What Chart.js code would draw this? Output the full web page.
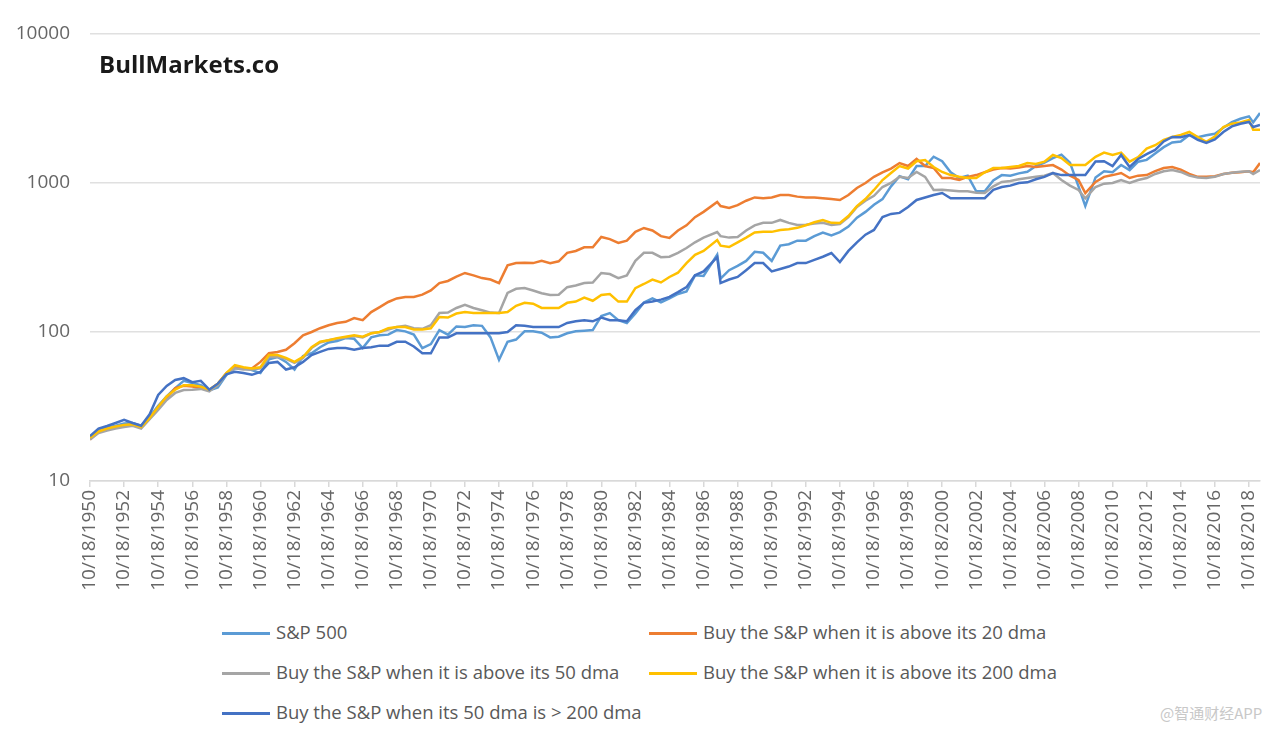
<!DOCTYPE html>
<html>
<head>
<meta charset="utf-8">
<script src="https://cdn.jsdelivr.net/npm/chart.js@4.4.1/dist/chart.umd.min.js"></script>
<style>
  body { margin: 0; background: #fff; }
  #wrap { position: relative; width: 1278px; height: 732px; overflow: hidden; font-family: "Open Sans", sans-serif; }
  #box { position: absolute; left: 0; top: 0; width: 1278px; height: 610px; }
  #brand { position: absolute; left: 99px; top: 47px; font: bold 24px "Open Sans", sans-serif; color: #1a1a1a; }
  .lg { position: absolute; font-size: 18.5px; color: #595959; white-space: nowrap; line-height: 22px; }
  .lg i { display: inline-block; width: 48px; height: 3px; vertical-align: middle; margin-right: 6px; position: relative; top: -1px; }
  #mark { position: absolute; left: 1160px; top: 702px; font: 15px "Noto Sans CJK SC", sans-serif; color: #c8c8c8; }
</style>
</head>
<body>
<div id="wrap">
  <div id="box"><canvas id="chart"></canvas></div>
  <div id="brand">BullMarkets.co</div>
  <div class="lg" style="left:222px;top:621px"><i style="background:#5B9BD5"></i>S&amp;P 500</div>
  <div class="lg" style="left:649px;top:621px"><i style="background:#ED7D31"></i>Buy the S&amp;P when it is above its 20 dma</div>
  <div class="lg" style="left:222px;top:661px"><i style="background:#A5A5A5"></i>Buy the S&amp;P when it is above its 50 dma</div>
  <div class="lg" style="left:649px;top:661px"><i style="background:#FFC000"></i>Buy the S&amp;P when it is above its 200 dma</div>
  <div class="lg" style="left:222px;top:701px"><i style="background:#4472C4"></i>Buy the S&amp;P when its 50 dma is &gt; 200 dma</div>
  <div id="mark">@智通财经APP</div>
</div>
<script>
// decimal years, roughly every half year from 10/18/1950
var years = [
  1950.8, 1951.3, 1951.8, 1952.3, 1952.8, 1953.3, 1953.8, 1954.3, 1954.8, 1955.3,
  1955.8, 1956.3, 1956.8, 1957.3, 1957.8, 1958.3, 1958.8, 1959.3, 1959.8, 1960.3,
  1960.8, 1961.3, 1961.8, 1962.3, 1962.8, 1963.3, 1963.8, 1964.3, 1964.8, 1965.3,
  1965.8, 1966.3, 1966.8, 1967.3, 1967.8, 1968.3, 1968.8, 1969.3, 1969.8, 1970.3,
  1970.8, 1971.3, 1971.8, 1972.3, 1972.8, 1973.3, 1973.8, 1974.3, 1974.8, 1975.3,
  1975.8, 1976.3, 1976.8, 1977.3, 1977.8, 1978.3, 1978.8, 1979.3, 1979.8, 1980.3,
  1980.8, 1981.3, 1981.8, 1982.3, 1982.8, 1983.3, 1983.8, 1984.3, 1984.8, 1985.3,
  1985.8, 1986.3, 1986.8, 1987.6, 1987.8, 1988.3, 1988.8, 1989.3, 1989.8, 1990.3,
  1990.8, 1991.3, 1991.8, 1992.3, 1992.8, 1993.3, 1993.8, 1994.3, 1994.8, 1995.3,
  1995.8, 1996.3, 1996.8, 1997.3, 1997.8, 1998.3, 1998.8, 1999.3, 1999.8, 2000.3,
  2000.8, 2001.3, 2001.8, 2002.3, 2002.8, 2003.3, 2003.8, 2004.3, 2004.8, 2005.3,
  2005.8, 2006.3, 2006.8, 2007.3, 2007.8, 2008.3, 2008.8, 2009.2, 2009.8, 2010.3,
  2010.8, 2011.3, 2011.8, 2012.3, 2012.8, 2013.3, 2013.8, 2014.3, 2014.8, 2015.3,
  2015.8, 2016.3, 2016.8, 2017.3, 2017.8, 2018.3, 2018.8, 2019.05, 2019.45];

var spx = [
  19.8, 22, 22.8, 23.5, 24.3, 24.5, 23.5, 27, 32, 37,
  42, 47, 45.5, 44, 40.5, 42.5, 51.5, 57, 57, 55.5,
  53, 65.5, 68, 63, 56, 69, 72, 79, 85, 87,
  91, 90, 78, 92, 95, 96, 103, 101, 96, 78,
  83, 103, 96, 109, 108, 111, 110, 92, 65, 86,
  89, 101, 101, 99, 92, 93, 98, 101, 102, 103,
  128, 134, 120, 115, 133, 158, 168, 158, 168, 180,
  187, 240, 238, 330, 228, 260, 278, 300, 345, 340,
  300, 380, 388, 410, 410, 440, 465, 445, 468, 510,
  585, 640, 715, 780, 950, 1110, 1060, 1300, 1300, 1500,
  1400, 1180, 1080, 1120, 880, 880, 1040, 1130, 1120, 1160,
  1190, 1300, 1370, 1470, 1550, 1370, 950, 700, 1090, 1200,
  1180, 1320, 1220, 1390, 1430, 1580, 1740, 1870, 1900, 2100,
  2030, 2090, 2140, 2350, 2560, 2700, 2800, 2550, 2950];

var dma20 = [
  19, 21.5, 22.3, 23, 23.5, 24, 23, 26.5, 31, 36,
  42, 43.5, 43, 42, 41, 45, 53, 58, 57, 57,
  63, 72, 73.5, 76, 84, 95, 100, 106, 111, 115,
  117, 124, 120, 136, 147, 159, 168, 172, 172, 178,
  190, 213, 220, 235, 249, 240, 230, 225, 213, 280,
  290, 292, 290, 300, 290, 298, 340, 350, 370, 370,
  434, 420, 396, 410, 470, 499, 480, 440, 428, 480,
  520, 590, 640, 745, 700, 680, 710, 760, 800, 790,
  800, 830, 830, 810, 800, 800, 790, 780, 769, 830,
  925, 1000, 1100, 1180, 1250, 1361, 1300, 1450, 1300, 1260,
  1081, 1080, 1050, 1100, 1130, 1180, 1230, 1260, 1250, 1270,
  1300, 1280, 1300, 1320, 1230, 1120, 1050, 857, 1017, 1100,
  1130, 1167, 1080, 1120, 1130, 1200, 1260, 1280, 1230, 1150,
  1100, 1100, 1110, 1150, 1170, 1180, 1200, 1180, 1360];

var dma50 = [
  19, 21, 21.8, 22.5, 23, 23.5, 22.5, 26, 30, 35,
  39, 40.8, 41, 41.5, 40, 44, 52, 57, 56, 56,
  57, 68, 68, 66, 62, 67, 78, 85, 88, 90,
  92, 94, 92, 98, 100, 104, 108, 110, 106, 105,
  111, 134, 135, 145, 152, 145, 140, 135, 134, 183,
  195, 197, 190, 182, 177, 178, 200, 205, 213, 215,
  249, 245, 230, 240, 300, 340, 340, 318, 320, 340,
  366, 400, 430, 469, 440, 430, 434, 480, 520, 540,
  540, 565, 540, 523, 525, 535, 540, 523, 530, 590,
  690, 760, 820, 940, 1000, 1100, 1080, 1186, 1100, 898,
  900, 890, 880, 880, 860, 857, 950, 1017, 1030, 1060,
  1080, 1100, 1120, 1167, 1047, 960, 898, 790, 940, 990,
  1000, 1047, 1000, 1047, 1080, 1150, 1200, 1222, 1186, 1120,
  1090, 1080, 1100, 1150, 1170, 1190, 1200, 1150, 1222];

var dma200 = [
  19.5, 21.5, 22.5, 23.2, 23.8, 24, 23, 26.5, 31.5, 37,
  41, 44, 44, 43, 41, 45, 53, 60, 58, 57,
  58, 70, 70, 67, 63, 68, 79, 86, 88, 91,
  93, 95, 93, 98, 100, 106, 108, 108, 104, 104,
  106, 126, 125, 133, 136, 134, 134, 134, 134, 136,
  150, 157, 155, 145, 145, 145, 157, 160, 170, 162,
  177, 180, 160, 160, 197, 210, 225, 215, 234, 250,
  290, 330, 350, 414, 380, 372, 400, 430, 465, 470,
  470, 484, 490, 500, 520, 545, 565, 540, 539, 600,
  700, 780, 898, 1047, 1167, 1300, 1250, 1400, 1425, 1280,
  1186, 1130, 1100, 1080, 1080, 1180, 1260, 1260, 1280, 1300,
  1361, 1340, 1390, 1542, 1470, 1320, 1320, 1320, 1500, 1600,
  1542, 1600, 1392, 1494, 1700, 1792, 1950, 2036, 2100, 2200,
  2036, 1887, 2050, 2375, 2500, 2550, 2650, 2280, 2280];

var cross = [
  20, 22.5, 23.4, 24.5, 25.7, 24.5, 23.5, 28, 37.8, 43.5,
  47.6, 49, 46, 47, 41, 45, 52, 54, 53, 51.6,
  54, 62, 63, 56, 58, 63, 70, 73.5, 77, 78,
  78, 76, 78, 79, 81, 81, 86, 86, 80, 72,
  72, 92, 92, 98, 98, 98, 98, 98, 98, 100,
  111, 110, 108, 108, 108, 108, 115, 118, 120, 118,
  125, 120, 120, 118, 140, 157, 160, 165, 172, 185,
  200, 240, 255, 318, 213, 225, 234, 260, 290, 290,
  255, 265, 275, 290, 290, 305, 320, 339, 295, 350,
  400, 450, 484, 591, 620, 630, 690, 769, 800, 830,
  857, 790, 790, 790, 790, 790, 900, 940, 960, 1000,
  1010, 1060, 1100, 1167, 1130, 1130, 1130, 1130, 1392, 1400,
  1300, 1542, 1280, 1450, 1560, 1667, 1900, 2036, 2030, 2100,
  1950, 1855, 1960, 2200, 2400, 2500, 2570, 2375, 2450];

var yTicks = [10, 100, 1000, 10000];
var firstTick = 1950.8;
var lastX = 2019.45;

function pts(vals) {
  return years.map(function (x, i) { return { x: x, y: vals[i] }; });
}

function line(label, vals, color, order) {
  return { label: label, data: pts(vals), borderColor: color, backgroundColor: color,
    borderWidth: 2.5, pointRadius: 0, tension: 0, order: order };
}

var axisFont = { family: "Open Sans", size: 19 };

new Chart(document.getElementById('chart').getContext('2d'), {
  type: 'line',
  data: {
    datasets: [
      line('S&P 500', spx, '#5B9BD5', 4),
      line('Buy the S&P when it is above its 20 dma', dma20, '#ED7D31', 3),
      line('Buy the S&P when it is above its 50 dma', dma50, '#A5A5A5', 2),
      line('Buy the S&P when it is above its 200 dma', dma200, '#FFC000', 1),
      line('Buy the S&P when its 50 dma is > 200 dma', cross, '#4472C4', 0)
    ]
  },
  options: {
    responsive: true,
    maintainAspectRatio: false,
    animation: false,
    layout: { padding: { top: 34, right: 18, left: 0, bottom: 0 } },
    plugins: { legend: { display: false }, tooltip: { enabled: false } },
    scales: {
      x: {
        type: 'linear',
        min: firstTick,
        max: lastX,
        afterBuildTicks: function (s) {
          var t = [];
          for (var v = firstTick; v < lastX; v += 2) t.push({ value: v });
          s.ticks = t;
        },
        afterFit: function (s) { s.height = 129; },
        border: { color: '#D9D9D9', width: 1.5 },
        grid: { drawOnChartArea: false, color: '#D9D9D9', tickLength: 6, lineWidth: 1.5 },
        ticks: {
          autoSkip: false, minRotation: 90, maxRotation: 90, padding: 3,
          color: '#666', font: axisFont,
          callback: function (v) { return '10/18/' + Math.round(v - 0.8); }
        }
      },
      y: {
        type: 'logarithmic',
        min: 10,
        max: 10000,
        afterBuildTicks: function (s) { s.ticks = yTicks.map(function (v) { return { value: v }; }); },
        afterFit: function (s) { s.width = 90; },
        border: { display: false },
        grid: { color: '#E0E0E0', lineWidth: 1.5, drawTicks: false },
        ticks: {
          padding: 20, color: '#666', font: axisFont,
          callback: function (v) { return String(v); }
        }
      }
    }
  }
});
</script>
</body>
</html>
